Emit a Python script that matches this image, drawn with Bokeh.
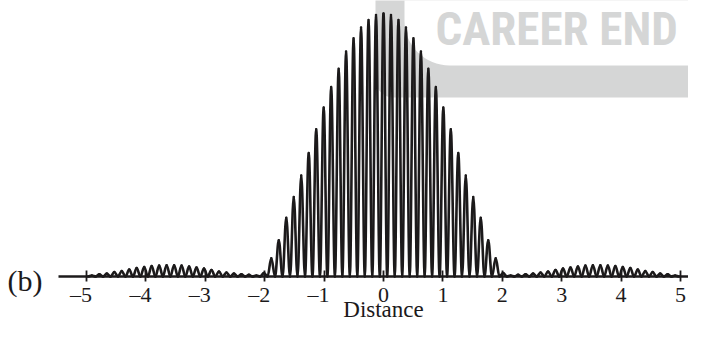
from bokeh.plotting import figure
from bokeh.models import FixedTicker, BoxAnnotation, ColumnDataSource, LinearAxis
from bokeh.core.properties import value
from bokeh.embed import file_html
from bokeh.resources import INLINE

# ---- data ----
fringe_x = [-4.910, -4.784, -4.658, -4.532, -4.407, -4.281, -4.155, -4.029, -3.903, -3.777,
            -3.651, -3.525, -3.399, -3.273, -3.148, -3.022, -2.896, -2.770, -2.644, -2.518,
            -2.392, -2.266, -2.140, -2.014, -1.889, -1.763, -1.637, -1.511, -1.385, -1.259,
            -1.133, -1.007, -0.881, -0.755, -0.630, -0.504, -0.378, -0.252, -0.126, 0.000,
            0.126, 0.252, 0.378, 0.504, 0.630, 0.755, 0.881, 1.007, 1.133, 1.259,
            1.385, 1.511, 1.637, 1.763, 1.889, 2.014, 2.140, 2.266, 2.392, 2.518,
            2.644, 2.770, 2.896, 3.022, 3.148, 3.273, 3.399, 3.525, 3.651, 3.777,
            3.903, 4.029, 4.155, 4.281, 4.407, 4.532, 4.658, 4.784, 4.910]
fringe_peak = [0.004, 0.008, 0.011, 0.017, 0.021, 0.026, 0.032, 0.036, 0.040, 0.042,
               0.043, 0.043, 0.042, 0.038, 0.034, 0.030, 0.025, 0.019, 0.015, 0.011,
               0.008, 0.006, 0.004, 0.013, 0.069, 0.138, 0.223, 0.302, 0.384, 0.469,
               0.560, 0.642, 0.720, 0.790, 0.855, 0.906, 0.947, 0.975, 0.994, 1.000,
               0.994, 0.975, 0.947, 0.906, 0.855, 0.790, 0.720, 0.642, 0.560, 0.469,
               0.384, 0.302, 0.223, 0.138, 0.069, 0.013, 0.004, 0.006, 0.008, 0.011,
               0.015, 0.019, 0.025, 0.030, 0.034, 0.038, 0.042, 0.043, 0.043, 0.042,
               0.040, 0.036, 0.032, 0.026, 0.021, 0.017, 0.011, 0.008, 0.004]
fringe_width = 0.126
tick_values = [-5, -4, -3, -2, -1, 0, 1, 2, 3, 4, 5]
tick_labels = ["\u20135", "\u20134", "\u20133", "\u20132", "\u20131", "0", "1", "2", "3", "4", "5"]
x_title = "Distance"
panel_label = "(b)"
watermark = "CAREER END"

# ---- layout (pixel anchors of the picture) ----
W, H = 688, 322
ZERO_PX, PX_PER_X = 383.0, 59.4     # x = 0 position, pixels per unit
BASE_PX, PX_PER_Y = 276.0, 263.0    # y = 0 position, pixels per unit

def px2x(cx):
    return (cx - ZERO_PX) / PX_PER_X

def px2y(cy):
    return (BASE_PX - cy) / PX_PER_Y

X0, X1 = px2x(0), px2x(W)
Y0, Y1 = px2y(H), px2y(0)

INK = "#1c1a1b"
GRAY = "#d5d6d6"
SERIF = "Liberation Serif"

p = figure(width=W, height=H, x_range=(X0, X1), y_range=(Y0, Y1),
           output_backend="svg", toolbar_location=None,
           x_axis_location=None, y_axis_location=None,
           min_border_left=0, min_border_right=0, min_border_top=0,
           min_border_bottom=0)
p.outline_line_color = None
p.xgrid.visible = False
p.ygrid.visible = False
p.background_fill_color = "white"
p.border_fill_color = "white"

# watermark behind the curve
outer = BoxAnnotation(left=px2x(375), right=X1 + 1, bottom=px2y(97), top=Y1 + 1,
                      fill_color=GRAY, fill_alpha=1, line_color=None,
                      border_radius=(0, 0, 0, 18), level="underlay")
inner = BoxAnnotation(left=px2x(404), right=X1 + 1, bottom=px2y(65), top=Y1 + 1,
                      fill_color="white", fill_alpha=1, line_color=None,
                      border_radius=(0, 0, 0, 45), level="underlay")
p.add_layout(outer)
p.add_layout(inner)
p.text(x=[px2x(435)], y=[px2y(28)], text=[watermark], text_color=GRAY,
       text_font=value("Roboto Condensed"), text_font_style="bold",
       text_font_size=value("47px"), text_align="left", text_baseline="middle")

# each fringe drawn as two cubic Bezier halves (trough -> peak -> trough)
k1, k2 = 0.3642, 0.6358
half = fringe_width / 2
bx0, by0, bx1, by1, bcx0, bcy0, bcx1, bcy1 = ([] for _ in range(8))
for c, h in zip(fringe_x, fringe_peak):
    xl = c - half
    bx0.append(xl); by0.append(0.0); bx1.append(c); by1.append(h)
    bcx0.append(xl + k1 * half); bcy0.append(0.0)
    bcx1.append(xl + k2 * half); bcy1.append(h)
    bx0.append(c); by0.append(h); bx1.append(c + half); by1.append(0.0)
    bcx0.append(c + k1 * half); bcy0.append(h)
    bcx1.append(c + k2 * half); bcy1.append(0.0)
src = ColumnDataSource(dict(x0=bx0, y0=by0, x1=bx1, y1=by1,
                            cx0=bcx0, cy0=bcy0, cx1=bcx1, cy1=bcy1))
p.bezier(x0="x0", y0="y0", x1="x1", y1="y1", cx0="cx0", cy0="cy0",
         cx1="cx1", cy1="cy1", source=src, line_color=INK, line_width=2.6,
         line_cap="round")

# axis crossing at y = 0
ax = LinearAxis(fixed_location=0)
ax.ticker = FixedTicker(ticks=tick_values)
ax.major_label_overrides = {v: (lab + "\u2002" if v < 0 else lab)
                            for v, lab in zip(tick_values, tick_labels)}
ax.bounds = (px2x(58), X1 + 1)
ax.axis_line_color = INK
ax.axis_line_width = 2.5
ax.major_tick_line_color = INK
ax.major_tick_line_width = 1.8
ax.major_tick_in = 6
ax.major_tick_out = 5
ax.minor_tick_line_color = None
ax.major_label_standoff = 0
ax.major_label_text_font = SERIF
ax.major_label_text_font_size = "22px"
ax.major_label_text_color = INK
p.add_layout(ax, "below")

p.text(x=[0], y=[px2y(309)], text=[x_title], text_color=INK,
       text_font=value(SERIF), text_font_size=value("23px"),
       text_align="center", text_baseline="middle")
p.text(x=[px2x(7)], y=[px2y(280)], text=[panel_label], text_color=INK,
       text_font=value(SERIF), text_font_size=value("30px"),
       text_align="left", text_baseline="middle")

open("out.html", "w").write(file_html(p, INLINE))
